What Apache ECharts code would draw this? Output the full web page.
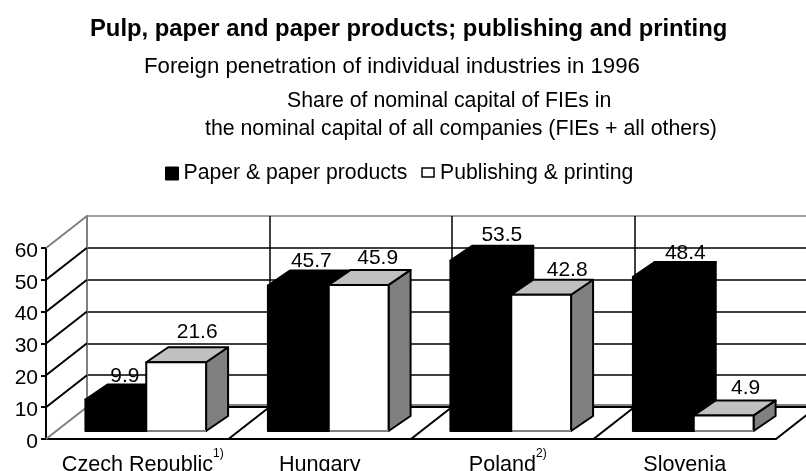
<!DOCTYPE html>
<html><head><meta charset="utf-8">
<style>html,body{margin:0;padding:0;background:#fff}#c{width:806px;height:471px}</style>
<script src="https://cdn.jsdelivr.net/npm/echarts@6/dist/echarts.min.js"></script>
</head><body><div id="c"></div>
<script>
const categories = ['Czech Republic', 'Hungary', 'Poland', 'Slovenia'];
const footnotes = ['1)', '', '2)', ''];
const paperValues = [9.9, 45.7, 53.5, 48.4];
const publishingValues = [21.6, 45.9, 42.8, 4.9];
const yTicks = [0, 10, 20, 30, 40, 50, 60];
const seriesNames = ['Paper & paper products', 'Publishing & printing'];

const FONT = '"Liberation Sans", Arial, sans-serif';
const DX = 41, DY = -32;            // full depth of the 3D box
const BAR_DX = 22, BAR_DY = -15;    // depth of one bar
const FLOOR_DX = 9, FLOOR_DY = -8;  // bars stand this far into the box
// hand nudges of value labels seen in the reference [dx, dy] per series and category
const labelNudge = [
  [[-12, 2], [-8, 1], [0, 0], [1, 2]],
  [[0, -5], [-2, -1], [5, 1], [1, -2]]
];

function barRenderer(seriesIdx, fill) {
  return function (params, api) {
    const cat = api.value(0), v = api.value(1);
    const band = api.size([1, 0])[0];
    const w = band / 3;
    const base = api.coord([cat, 0]);
    const top = api.coord([cat, v]);
    const x0 = base[0] - w + FLOOR_DX + seriesIdx * w;
    const x1 = x0 + w - (seriesIdx ? 1 : 0);
    const yB = base[1] + FLOOR_DY, yT = top[1] + FLOOR_DY;
    const isBlack = seriesIdx === 0;
    const line = { stroke: '#000', lineWidth: 2, lineJoin: 'round', lineCap: 'round' };
    const nudge = labelNudge[seriesIdx][cat];
    const kids = [
      { type: 'polygon', shape: { points: [[x1, yB], [x1 + BAR_DX, yB + BAR_DY], [x1 + BAR_DX, yT + BAR_DY], [x1, yT]] },
        style: Object.assign({ fill: isBlack ? '#000' : '#808080' }, line) },
      { type: 'polygon', shape: { points: [[x0, yT], [x1, yT], [x1 + BAR_DX, yT + BAR_DY], [x0 + BAR_DX, yT + BAR_DY]] },
        style: Object.assign({ fill: isBlack ? '#000' : '#c0c0c0' }, line) },
      { type: 'rect', shape: { x: x0, y: yT, width: x1 - x0, height: yB - yT },
        style: Object.assign({ fill: fill }, line) }
    ];
    if (!isBlack) kids.push({ type: 'line', shape: { x1: x0 + 1, y1: yB, x2: x1, y2: yB },
      style: { stroke: '#808080', lineWidth: 2 } });
    kids.push({ type: 'text', style: { text: v.toFixed(1), x: (x0 + x1) / 2 + 21 + nudge[0], y: yT + BAR_DY + nudge[1],
      textAlign: 'center', textVerticalAlign: 'bottom', font: '21px ' + FONT, fill: '#000' }, z2: 50 });
    return { type: 'group', children: kids };
  };
}

function frameRenderer(params, api) {
  // diagonals from the front plane to the back wall, and the floor
  const kids = [];
  const band = api.size([1, 0])[0];
  const origin = api.coord([0, 0]);
  const left = origin[0] - band / 2;
  kids.push({ type: 'line', shape: { x1: left + DX, y1: origin[1] + DY - 2, x2: left + DX + band * categories.length, y2: origin[1] + DY - 2 },
    style: { stroke: '#808080', lineWidth: 2 } });
  yTicks.forEach((t, i) => {
    const p = api.coord([0, t]);
    const grey = i === 0 || i === yTicks.length - 1;
    kids.push({ type: 'line', shape: { x1: left, y1: p[1], x2: left + DX, y2: p[1] + DY },
      style: { stroke: grey ? '#808080' : '#000', lineWidth: 2 } });
  });
  for (let c = 1; c <= categories.length; c++) {
    const x = left + c * band;
    kids.push({ type: 'line', shape: { x1: x, y1: origin[1], x2: x + DX, y2: origin[1] + DY },
      style: { stroke: '#000', lineWidth: 2 } });
  }
  return { type: 'group', children: kids };
}

const option = {
  animation: false,
  backgroundColor: '#fff',
  title: [
    { text: 'Pulp, paper and paper products; publishing and printing', left: 85, top: 12, textStyle: { fontFamily: FONT, fontSize: 23.8, fontWeight: 'bold', color: '#000' } },
    { text: 'Foreign penetration of individual industries in 1996', left: 139, top: 51, textStyle: { fontFamily: FONT, fontSize: 22.2, fontWeight: 'normal', color: '#000' } },
    { text: 'Share of nominal capital of FIEs in', left: 282, top: 86, textStyle: { fontFamily: FONT, fontSize: 21.3, fontWeight: 'normal', color: '#000' } },
    { text: 'the nominal capital of all companies (FIEs + all others)', left: 200, top: 114, textStyle: { fontFamily: FONT, fontSize: 21.3, fontWeight: 'normal', color: '#000' } }
  ],
  legend: {
    left: 165, top: 163, itemWidth: 13, itemHeight: 13, itemGap: 14, selectedMode: false, padding: 0,
    textStyle: { fontFamily: FONT, fontSize: 21.2, color: '#000' },
    data: [
      { name: seriesNames[0], icon: 'rect', itemStyle: { color: '#000', borderColor: '#000', borderWidth: 1 } },
      { name: seriesNames[1], icon: 'path://M0,0L0,0M13,13L13,13M0,1H12V10H0Z', itemStyle: { color: '#fff', borderColor: '#000', borderWidth: 1.5 } }
    ]
  },
  grid: [
    { left: 46 + DX, width: 730, top: 248 + DY, height: 191, outerBoundsMode: 'none' },
    { left: 46, width: 730, top: 248, height: 191, outerBoundsMode: 'none' }
  ],
  xAxis: [
    { gridIndex: 0, type: 'category', data: categories, boundaryGap: true,
      axisLine: { show: true, lineStyle: { color: '#000', width: 2 } }, axisTick: { show: false }, axisLabel: { show: false },
      splitLine: { show: true, interval: 0, lineStyle: { color: '#000', width: 1.5 } } },
    { gridIndex: 1, type: 'category', data: categories, boundaryGap: true,
      axisLine: { show: true, lineStyle: { color: '#000', width: 2 } }, axisTick: { show: false },
      axisLabel: { margin: 9, interval: 0,
        formatter: (v, i) => footnotes[i] ? `{pad|${v}}{sup|${footnotes[i]}}` : `{base|${v}}`,
        rich: {
          base: { fontFamily: FONT, fontSize: 21.6, lineHeight: 34, color: '#000' },
          pad: { fontFamily: FONT, fontSize: 21.6, lineHeight: 34, color: '#000', padding: [0, 0, 0, 11] },
          sup: { fontFamily: FONT, fontSize: 12, lineHeight: 12, color: '#000', verticalAlign: 'top' }
        } },
      splitLine: { show: false } }
  ],
  yAxis: [
    { gridIndex: 0, type: 'value', min: 0, max: 60, interval: 10,
      axisLine: { show: true, lineStyle: { color: '#808080', width: 2 } }, axisTick: { show: false }, axisLabel: { show: false },
      splitLine: { show: true, lineStyle: { color: ['#000', '#000', '#000', '#000', '#000', '#000', '#808080'], width: 1.5 } } },
    { gridIndex: 1, type: 'value', min: 0, max: 60, interval: 10,
      axisLine: { show: true, lineStyle: { color: '#000', width: 2 } },
      axisTick: { show: true, length: 5, lineStyle: { color: '#000', width: 2 } },
      axisLabel: { margin: 8, formatter: '{t|{value}}',
        rich: { t: { fontFamily: FONT, fontSize: 21, color: '#000', padding: [6, 0, 0, 0] } } },
      splitLine: { show: false } }
  ],
  series: [
    { type: 'custom', name: 'frame', xAxisIndex: 1, yAxisIndex: 1, clip: false, z: 2, silent: true,
      renderItem: frameRenderer, data: [[0, 0]], encode: { x: 0, y: 1 } },
    { type: 'custom', name: seriesNames[0], xAxisIndex: 1, yAxisIndex: 1, clip: false, z: 3,
      itemStyle: { color: '#000' }, renderItem: barRenderer(0, '#000'),
      data: paperValues.map((v, i) => [i, v]), encode: { x: 0, y: 1 } },
    { type: 'custom', name: seriesNames[1], xAxisIndex: 1, yAxisIndex: 1, clip: false, z: 4,
      itemStyle: { color: '#fff' }, renderItem: barRenderer(1, '#fff'),
      data: publishingValues.map((v, i) => [i, v]), encode: { x: 0, y: 1 } }
  ]
};
echarts.init(document.getElementById('c'), null, { renderer: 'canvas' }).setOption(option);
</script></body></html>
